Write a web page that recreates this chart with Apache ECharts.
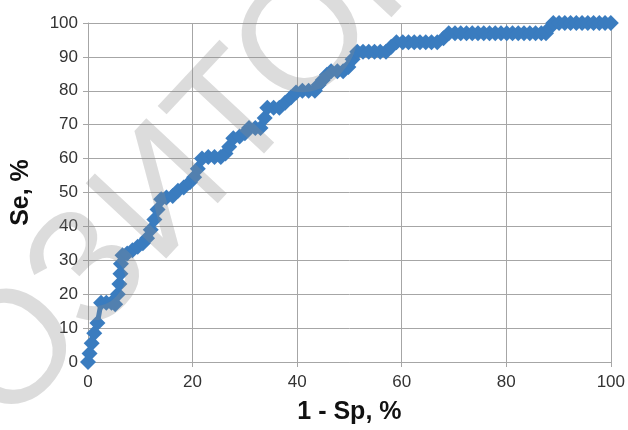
<!DOCTYPE html>
<html>
<head>
<meta charset="utf-8">
<script src="https://cdn.jsdelivr.net/npm/echarts@6/dist/echarts.min.js"></script>
<style>
  html, body { margin: 0; padding: 0; background: #fff; }
  #main { width: 628px; height: 430px; }
</style>
</head>
<body>
<div id="main"></div>
<script>
// 1 - Sp, % (x) and Se, % (y)
var fpr = [0, 0.3, 0.7, 1.2, 1.8, 2.5, 3.5, 4.5, 5.2, 5.7, 6, 6.2, 6.3, 6.6, 7.5, 8.5, 9.5, 10.5, 11.3, 12,
  12.7, 13.3, 14, 15, 16.2, 17.2, 18.3, 19.5, 20.3, 21, 21.8, 23, 24.2, 25.4, 26.3, 27, 27.8, 29, 30, 30.8,
  32, 33, 33.8, 34.3, 35.5, 36.6, 37.7, 38.8, 39.8, 41, 42.2, 43.4, 44.1, 44.9, 45.7, 46.5, 47.7, 48.8, 49.8, 50.6,
  51.5, 52.6, 53.7, 54.8, 55.9, 57, 58, 59, 60.2, 61.3, 62.4, 63.5, 64.6, 65.7, 66.8, 68, 69, 70.2, 71.3, 72.4,
  73.5, 74.6, 75.7, 76.8, 77.9, 79, 80.1, 81.2, 82.3, 83.4, 84.5, 85.6, 86.7, 87.6, 88.3, 89, 90.1, 91.2, 92.3, 93.4,
  94.5, 95.6, 96.7, 97.8, 98.9, 100];
var se = [0, 2.5, 5.5, 8.5, 11.5, 17.5, 17.5, 17.5, 17, 20, 23, 26, 29, 31.5, 32, 33, 34, 35, 36.5, 39,
  42, 45, 48, 48.5, 49, 50.5, 51.5, 53, 54.5, 57, 60, 60.5, 60.5, 60.5, 61.5, 63.5, 66, 66.5, 67.5, 69,
  69, 69, 72, 75, 75, 75, 76.5, 78, 79.5, 80, 80, 80, 81.7, 83.2, 84.7, 85.8, 85.8, 85.8, 87, 89.3,
  91.5, 91.5, 91.5, 91.5, 91.5, 91.5, 93, 94.3, 94.3, 94.3, 94.3, 94.3, 94.3, 94.3, 94.3, 95.5, 97, 97, 97, 97,
  97, 97, 97, 97, 97, 97, 97, 97, 97, 97, 97, 97, 97, 97, 98.5, 100, 100, 100, 100, 100,
  100, 100, 100, 100, 100, 100];

var xTitle = '1 - Sp, %';
var yTitle = 'Se, %';
var watermark = 'РЕПОЗИТОРИЙ';

var myChart = echarts.init(document.getElementById('main'));

var points = [];
for (var i = 0; i < fpr.length; i++) {
  points.push([fpr[i], se[i]]);
}

var option = {
  animation: false,
  backgroundColor: '#fff',
  grid: { left: 88, right: 14, top: 23, bottom: 68 },
  xAxis: {
    type: 'value',
    min: 0, max: 100, interval: 20,
    name: xTitle,
    nameLocation: 'middle',
    nameGap: 38,
    nameTextStyle: { fontFamily: 'Liberation Sans', fontSize: 25, fontWeight: 'bold', color: '#111' },
    axisLine: { show: true, lineStyle: { color: '#a6a6a6', width: 1 } },
    axisTick: { show: true, length: 5, lineStyle: { color: '#a6a6a6' } },
    axisLabel: { fontFamily: 'Liberation Sans', fontSize: 17, color: '#333', margin: 12 },
    splitLine: { show: true, lineStyle: { color: '#a6a6a6', width: 1 } }
  },
  yAxis: {
    type: 'value',
    min: 0, max: 100, interval: 10,
    name: yTitle,
    nameLocation: 'middle',
    nameGap: 54,
    nameRotate: 90,
    nameTextStyle: { fontFamily: 'Liberation Sans', fontSize: 25, fontWeight: 'bold', color: '#111' },
    axisLine: { show: true, lineStyle: { color: '#a6a6a6', width: 1 } },
    axisTick: { show: true, length: 5, lineStyle: { color: '#a6a6a6' } },
    axisLabel: { fontFamily: 'Liberation Sans', fontSize: 17, color: '#333', margin: 10 },
    splitLine: { show: true, lineStyle: { color: '#a6a6a6', width: 1 } }
  },
  series: [
    {
      type: 'line',
      data: points,
      symbol: 'diamond',
      symbolSize: 16,
      showAllSymbol: true,
      lineStyle: { color: '#3a7cbf', width: 5 },
      itemStyle: { color: '#3a7cbf' }
    }
  ],
  graphic: [
    {
      // полупрозрачный водяной знак поверх графика
      type: 'text',
      x: 165, y: 195,
      rotation: 0.82,
      z: 100,
      silent: true,
      style: {
        text: watermark,
        fontFamily: 'Liberation Sans',
        fontSize: 160,
        fill: 'rgba(140,140,140,0.3)',
        textAlign: 'center',
        textVerticalAlign: 'middle'
      }
    }
  ]
};

myChart.setOption(option, true);
</script>
</body>
</html>
